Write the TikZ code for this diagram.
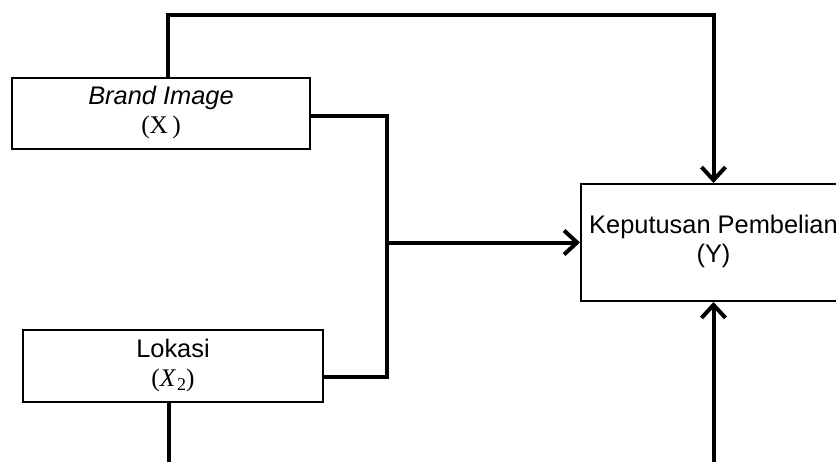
\documentclass[tikz,border=0pt]{standalone}
\usepackage{fontspec}
\setmainfont{Liberation Sans}
\newfontfamily\serifX{Liberation Serif}
\usetikzlibrary{arrows.meta}

\newcommand{\boxtext}[2]{\raisebox{3pt}{\begin{tabular}{@{}c@{}}#1\\#2\end{tabular}}}

\begin{document}
\begin{tikzpicture}[x=0.5pt, y=-0.5pt,
box/.style={draw, line width=1pt, rectangle, inner sep=0pt,
  font=\fontsize{12.7}{14.5}\selectfont},
conn/.style={black, line width=2pt},
arrow/.style={conn, -{Straight Barb[length=6.5pt,width=12pt]}}]

\pgfmathsetmacro{\W}{836}
\pgfmathsetmacro{\H}{461}

\fill[white] (0,0) rectangle (\W,\H);
\useasboundingbox (0,0) rectangle (\W,\H);
\clip (0,0) rectangle (\W,\H);

% MAIN BOXES
\node[box, minimum width=149pt, minimum height=35.5pt] (brand) at (161,113.5)
  {\boxtext{\textit{Brand Image}}{\serifX (X\,)}};
\node[box, minimum width=150pt, minimum height=36pt] (lokasi) at (173,366)
  {\boxtext{Lokasi}{\serifX (\textit{X}\kern0.5pt\raisebox{-2pt}{\small 2})}};
\node[box, minimum width=132.5pt, minimum height=58.5pt] (keputusan) at (713.5,242.5)
  {\boxtext{Keputusan Pembelian}{(Y)}};

% corner points
\coordinate (top) at (168,15);
\coordinate (bot) at (169,463.5);
\coordinate (jTop) at (387,116);
\coordinate (jBot) at (387,377);
\coordinate (jMid) at (387,242.5);

% direct paths to Y
\draw[arrow] (brand.north -| top) -- (top) -| (keputusan.north);
\draw[arrow] (lokasi.south -| bot) -- (bot) -| (keputusan.south);

% joint path X1, X2
\draw[conn] (brand.east |- jTop) -- (jTop) -- (jBot) -- (lokasi.east |- jBot);
\draw[arrow] (jMid) -- (keputusan.west);

\end{tikzpicture}
\end{document}
